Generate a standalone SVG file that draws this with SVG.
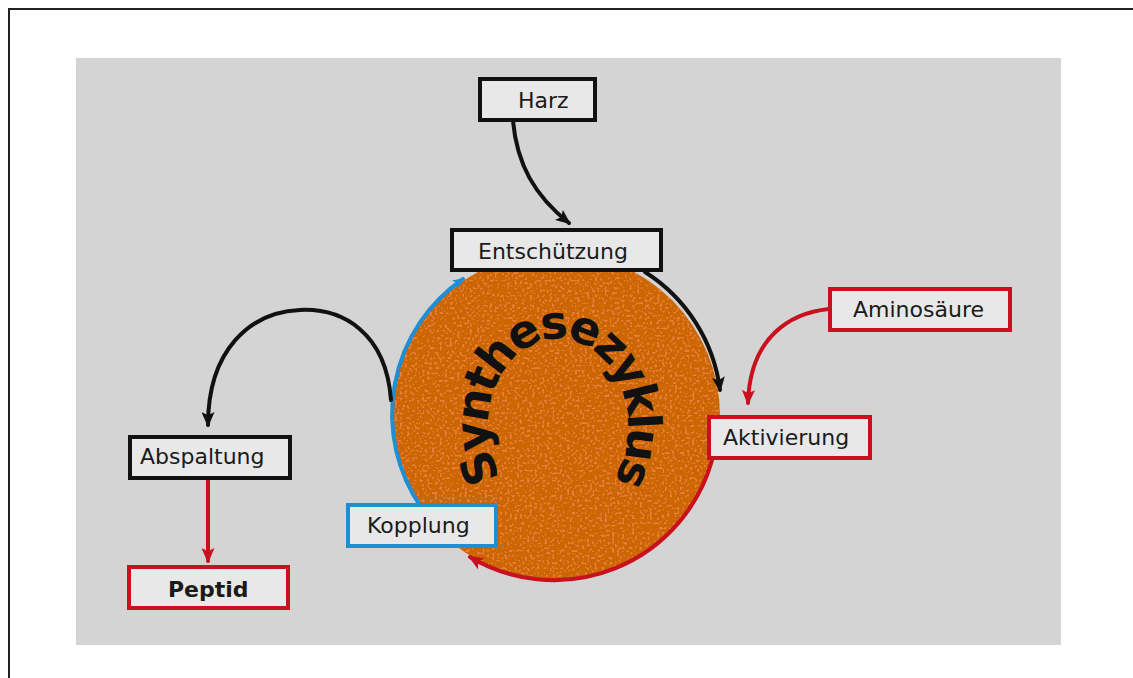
<svg xmlns="http://www.w3.org/2000/svg" width="1133" height="678" viewBox="0 0 1133 678">
<style>
.box{fill:#e8e8e8;stroke-width:4}
.k{stroke:#111}
.r{stroke:#c8101e}
.b{stroke:#1e8fd5}
.lbl{font-family:"DejaVu Sans","Liberation Sans",sans-serif;font-size:22px;fill:#1a1a1a}
.con{fill:none;stroke-width:4;stroke-linecap:round}
</style>
<defs>
<marker id="ak" viewBox="0 0 14 12" refX="12" refY="6" markerWidth="16" markerHeight="13" markerUnits="userSpaceOnUse" orient="auto"><path d="M0,0 L14,6 L0,12 L3,6 Z" fill="#111"/></marker>
<marker id="ar" viewBox="0 0 14 12" refX="12" refY="6" markerWidth="16" markerHeight="13" markerUnits="userSpaceOnUse" orient="auto"><path d="M0,0 L14,6 L0,12 L3,6 Z" fill="#c8101e"/></marker>
<marker id="ab" viewBox="0 0 14 12" refX="12" refY="6" markerWidth="12" markerHeight="10" markerUnits="userSpaceOnUse" orient="auto"><path d="M0,0 L14,6 L0,12 L3,6 Z" fill="#1e8fd5"/></marker>
<filter id="speck" x="0" y="0" width="100%" height="100%">
<feTurbulence type="fractalNoise" baseFrequency="0.4" numOctaves="1" seed="7" result="n"/>
<feColorMatrix in="n" type="matrix" values="0 0 0 0 0.85  0 0 0 0 0.22  0 0 0 0 0.06  0 0 0 -16 6.9" result="s"/>
<feComposite in="s" in2="SourceGraphic" operator="in"/>
</filter>
<path id="arcText" d="M516,497 A70,88 0 1 1 600,497"/>
</defs>
<rect x="0" y="0" width="1133" height="678" fill="#ffffff"/>
<path d="M9,678 L9,9 L1133,9" fill="none" stroke="#222" stroke-width="2"/>
<rect x="76" y="58" width="985" height="587" fill="#d4d4d4"/>

<g id="zyklus">
<circle cx="556" cy="416" r="164" fill="#cc6602"/>
<circle cx="556" cy="416" r="164" fill="#cc6602" filter="url(#speck)" opacity="0.85"/>
<text font-family="'DejaVu Sans','Liberation Sans',sans-serif" font-weight="bold" font-size="46" letter-spacing="-3.5" fill="#111" text-anchor="middle"><textPath href="#arcText" startOffset="50%">Synthesezyklus</textPath></text>
</g>

<g id="connectors">
<path class="con" d="M421,507 A164,164 0 0 1 463,279" stroke="#1e8fd5" stroke-width="3.5" marker-end="url(#ab)"/>
<path class="con" d="M645,272 A164,164 0 0 1 720,390" stroke="#111" marker-end="url(#ak)"/>
<path class="con" d="M712,460 A164,164 0 0 1 470,557" stroke="#c8101e" marker-end="url(#ar)"/>
<path class="con" d="M513,121 C517,165 535,196 569,223" stroke="#111" marker-end="url(#ak)"/>
<path class="con" d="M829,309 C790,313 750,337 748,403" stroke="#c8101e" marker-end="url(#ar)"/>
<path class="con" d="M391,400 C386,332 342,308 300,310 C250,312 208,350 208,425" stroke="#111" marker-end="url(#ak)"/>
<path class="con" d="M208,480 L208,561" stroke="#c8101e" marker-end="url(#ar)"/>
</g>

<g id="harz"><rect class="box k" x="480" y="79" width="115" height="41"/><text class="lbl" x="518" y="108">Harz</text></g>
<g id="entschuetzung"><rect class="box k" x="452" y="230" width="209" height="40"/><text class="lbl" x="478" y="259">Entschützung</text></g>
<g id="aminosaeure"><rect class="box r" x="830" y="289" width="180" height="41"/><text class="lbl" x="853" y="317">Aminosäure</text></g>
<g id="aktivierung"><rect class="box r" x="709" y="417" width="161" height="41"/><text class="lbl" x="723" y="445">Aktivierung</text></g>
<g id="abspaltung"><rect class="box k" x="130" y="437" width="160" height="41"/><text class="lbl" x="140" y="464">Abspaltung</text></g>
<g id="peptid"><rect class="box r" x="129" y="567" width="159" height="41"/><text class="lbl" x="168" y="597" font-weight="bold">Peptid</text></g>
<g id="kopplung"><rect class="box b" x="348" y="505" width="148" height="41"/><text class="lbl" x="367" y="533">Kopplung</text></g>
</svg>
